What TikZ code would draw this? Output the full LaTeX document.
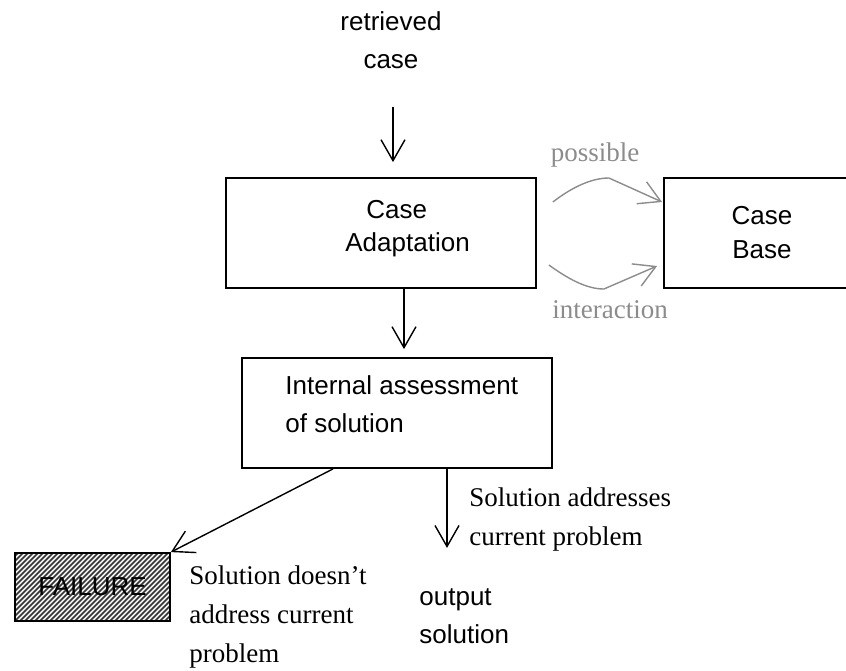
\documentclass[tikz,border=0pt]{standalone}
\usepackage{fontspec}
\setmainfont{Liberation Serif}
\setsansfont{Liberation Sans}
\usetikzlibrary{arrows.meta,calc}

\begin{document}
\begin{tikzpicture}[x=0.5pt,y=-0.5pt,
  box/.style={draw,line width=0.9pt,inner sep=0pt,minimum width=155pt,minimum height=55pt},
  sans/.style={font=\sffamily\fontsize{13}{19}\selectfont},
  serif/.style={font=\fontsize{13.5}{19.5}\selectfont},
  arr/.style={line width=0.7pt,-{Straight Barb[length=10.5pt,width=12pt]}},
  garr/.style={arr,black!45},
  hatch/.style={line width=0.75pt,black!80}]
\useasboundingbox (0,0) rectangle (846,670);

\node[sans,align=center,inner sep=0pt] (retr) at (391,40) {retrieved\\case};
\node[box] (adapt) at (381,233) {};
\node[align=left,inner sep=0pt,anchor=west,font=\sffamily\fontsize{13}{16.5}\selectfont] (adaptTxt) at (345,228.5) {\hspace*{10.5pt}Case\\Adaptation};
\node[box,minimum width=98pt,align=center,font=\sffamily\fontsize{13}{17}\selectfont] (base) at (762,233) {Case\\Base};
\node[box] (assess) at (397,413) {};
\node[sans,align=left,inner sep=0pt,anchor=west] (assessTxt) at (285,404) {Internal assessment\\of solution};

\fill[black!6] (15,553) rectangle (170,621);
\begin{scope}
\clip (15,553) rectangle (170,621);
\foreach \h in {-70,-65,...,170}
  \draw[hatch] (\h,621) -- +(68,-68);
\end{scope}
\node[box,minimum width=77.5pt,minimum height=34pt,sans] (fail) at (92.5,587) {FAILURE};

\coordinate (retrEnd) at (393,107);
\draw[arr,shorten >=7.5pt] (retrEnd) -- (retrEnd |- adapt.north);
\draw[arr,shorten >=4pt] ($(adapt.south)+(23,0)$) -- ($(assess.north)+(7,0)$);
\draw[arr] ($(assess.south)+(-64,0)$) -- (fail.north east);
\draw[arr] ($(assess.south)+(50,0)$) -- +(0,79);

\draw[garr] ($(adapt.east)+(16,-31)$) .. controls +(18,-14) and +(-18,0) .. ($(adapt.east)+(72,-55)$) -- ($(base.west)+(-1,-31)$);
\draw[garr] ($(adapt.east)+(12,32)$) .. controls +(18,13) and +(-18,0) .. ($(adapt.east)+(67,56)$) -- ($(base.west)+(-6,33)$);
\node[serif,text=black!45] (poss) at (595,155) {possible};
\node[serif,text=black!45] (inter) at (610,310) {interaction};

\node[serif,align=left,inner sep=0pt,anchor=west] (okTxt) at (469,519.5) {Solution addresses\\current problem};
\node[serif,align=left,inner sep=0pt,anchor=west] (failTxt) at (189,617) {Solution doesn’t\\address current\\problem};
\node[sans,align=left,inner sep=0pt,anchor=west] (outTxt) at (419,616) {output\\solution};
\end{tikzpicture}
\end{document}
